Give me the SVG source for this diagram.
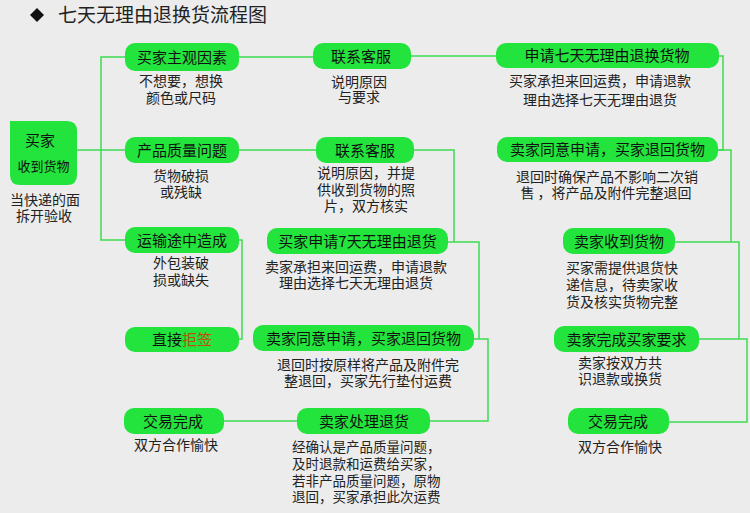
<svg xmlns="http://www.w3.org/2000/svg" width="750" height="513" viewBox="0 0 750 513">
<style>
text{font-family:"Noto Sans CJK SC","Liberation Sans",sans-serif;}
.n{fill:#22e43c;}
.lb{font-size:15px;fill:#111;text-anchor:middle;}
.d{font-size:14px;fill:#222;text-anchor:middle;}
.dl{font-size:13.5px;fill:#222;}
.c{fill:none;stroke:#3ddc50;stroke-width:1.5;}
</style>
<rect width="750" height="513" fill="#ececec"/>
<g id="title">
<path d="M37,8 L44,15 L37,22 L30,15 Z" fill="#111"/>
<text x="58" y="22" style="font-size:19px;fill:#222">七天无理由退换货流程图</text>
</g>
<g id="connectors">
<path class="c" d="M77,150 H125"/>
<path class="c" d="M125,57 H101 V240 H125"/>
<path class="c" d="M239,57 H313"/>
<path class="c" d="M411,56 H496"/>
<path class="c" d="M719,56 H723 V150 H718"/>
<path class="c" d="M718,150 H731 V242"/>
<path class="c" d="M675,242 H739 V339"/>
<path class="c" d="M699,339 H747 V422 H669"/>
<path class="c" d="M239,150 H316"/>
<path class="c" d="M414,150 H454 V242"/>
<path class="c" d="M448,242 H479 V339"/>
<path class="c" d="M474,339 H488 V421 H430"/>
<path class="c" d="M239,240 H242 V339 H239"/>
<path class="c" d="M224,421 H297"/>
</g>
<g id="buyer-receive">
<path class="n" d="M10,121 H67 Q77,121 77,131 V175 Q77,185 67,185 H20 Q10,185 10,175 Z"/>
<text x="40" y="146" class="lb">买家</text>
<text x="43.5" y="171" class="lb" style="font-size:13px">收到货物</text>
<text x="45" y="205" class="d">当快递的面</text>
<text x="44" y="221" class="d">拆开验收</text>
</g>
<g id="subjective">
<rect class="n" x="125" y="43" width="114" height="28" rx="10"/>
<text x="182" y="62.5" class="lb">买家主观因素</text>
<text x="181" y="86" class="d">不想要，想换</text>
<text x="181" y="103" class="d">颜色或尺码</text>
</g>
<g id="contact1">
<rect class="n" x="313" y="43" width="98" height="26" rx="10"/>
<text x="361" y="61.5" class="lb">联系客服</text>
<text x="359" y="87" class="d">说明原因</text>
<text x="359" y="102" class="d">与要求</text>
</g>
<g id="apply7">
<rect class="n" x="496" y="43" width="223" height="25" rx="10"/>
<text x="607" y="61" class="lb">申请七天无理由退换货物</text>
<text x="600" y="86" class="d">买家承担来回运费，申请退款</text>
<text x="600" y="105" class="d">理由选择七天无理由退货</text>
</g>
<g id="quality">
<rect class="n" x="125" y="137" width="114" height="26" rx="10"/>
<text x="182" y="155.5" class="lb">产品质量问题</text>
<text x="181" y="181" class="d">货物破损</text>
<text x="181" y="197" class="d">或残缺</text>
</g>
<g id="contact2">
<rect class="n" x="316" y="137" width="98" height="26" rx="10"/>
<text x="365" y="155.5" class="lb">联系客服</text>
<text x="366" y="178" class="d">说明原因，并提</text>
<text x="366" y="195" class="d">供收到货物的照</text>
<text x="366" y="211" class="d">片，双方核实</text>
</g>
<g id="seller-agree1">
<rect class="n" x="497" y="137" width="221" height="25" rx="10"/>
<text x="607.5" y="155" class="lb">卖家同意申请，买家退回货物</text>
<text x="607" y="182" class="d">退回时确保产品不影响二次销</text>
<text x="606" y="198" class="d">售 ，将产品及附件完整退回</text>
</g>
<g id="transport">
<rect class="n" x="125" y="227" width="114" height="26" rx="10"/>
<text x="182" y="245.5" class="lb">运输途中造成</text>
<text x="181" y="268" class="d">外包装破</text>
<text x="181" y="285" class="d">损或缺失</text>
</g>
<g id="apply7b">
<rect class="n" x="267" y="228" width="181" height="26" rx="10"/>
<text x="357.5" y="246.5" class="lb">买家申请7天无理由退货</text>
<text x="356" y="272" class="d">卖家承担来回运费，申请退款</text>
<text x="356" y="288" class="d">理由选择七天无理由退货</text>
</g>
<g id="seller-receive">
<rect class="n" x="563" y="228" width="112" height="26" rx="10"/>
<text x="619" y="246.5" class="lb">卖家收到货物</text>
<text x="622" y="273" class="d">买家需提供退货快</text>
<text x="622" y="290" class="d">递信息，待卖家收</text>
<text x="622" y="307" class="d">货及核实货物完整</text>
</g>
<g id="refuse">
<rect class="n" x="125" y="327" width="114" height="25" rx="10"/>
<text x="182" y="345" class="lb">直接<tspan fill="#c8480e">拒签</tspan></text>
</g>
<g id="seller-agree2">
<rect class="n" x="253" y="325" width="221" height="26" rx="10"/>
<text x="363.5" y="343.5" class="lb">卖家同意申请，买家退回货物</text>
<text x="368" y="370" class="d">退回时按原样将产品及附件完</text>
<text x="368" y="386" class="d">整退回，买家先行垫付运费</text>
</g>
<g id="seller-done">
<rect class="n" x="554" y="326" width="145" height="26" rx="10"/>
<text x="626.5" y="344.5" class="lb">卖家完成买家要求</text>
<text x="620" y="368" class="d">卖家按双方共</text>
<text x="620" y="384" class="d">识退款或换货</text>
</g>
<g id="done-left">
<rect class="n" x="124" y="408" width="100" height="26" rx="10"/>
<text x="173" y="426.5" class="lb">交易完成</text>
<text x="176" y="450" class="d">双方合作愉快</text>
</g>
<g id="seller-process">
<rect class="n" x="297" y="408" width="133" height="26" rx="10"/>
<text x="364" y="426.5" class="lb">卖家处理退货</text>
<text x="292" y="452" class="dl">经确认是产品质量问题，</text>
<text x="292" y="469" class="dl">及时退款和运费给买家，</text>
<text x="292" y="486" class="dl">若非产品质量问题，原物</text>
<text x="292" y="502" class="dl">退回，买家承担此次运费</text>
</g>
<g id="done-right">
<rect class="n" x="568" y="408" width="101" height="26" rx="10"/>
<text x="618" y="426.5" class="lb">交易完成</text>
<text x="620" y="452" class="d">双方合作愉快</text>
</g>
</svg>
